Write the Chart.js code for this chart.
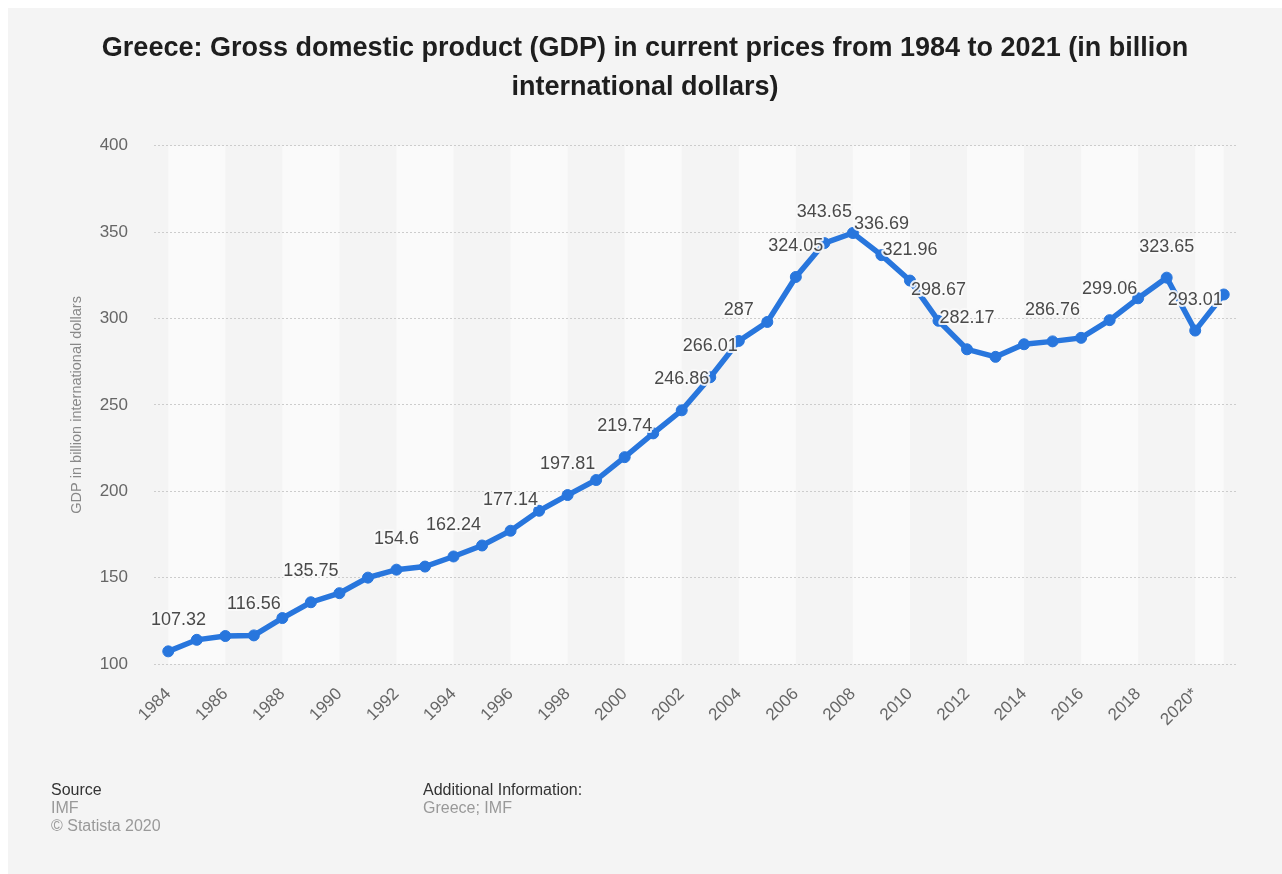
<!DOCTYPE html>
<html>
<head>
<meta charset="utf-8">
<title>Greece GDP 1984-2021</title>
<script src="https://cdn.jsdelivr.net/npm/chart.js"></script>
<style>
    html, body { margin: 0; padding: 0; background: #ffffff; }
    #panel {
        position: absolute; left: 8px; top: 8px; width: 1274px; height: 866px;
        background: #f4f4f4; font-family: "Liberation Sans", Arial, sans-serif;
    }
    #chartBox { position: absolute; left: 0; top: 0; width: 1274px; height: 866px; }
    .foot { position: absolute; font-size: 16px; line-height: 18px; color: #999999; white-space: nowrap; }
    .foot b { font-weight: normal; color: #333333; }
</style>
</head>
<body>
<div id="panel">
    <div id="chartBox"><canvas id="gdpChart"></canvas></div>
    <div class="foot" style="left:43px; top:773px;"><b>Source</b><br>IMF<br>© Statista 2020</div>
    <div class="foot" style="left:415px; top:773px;"><b>Additional Information:</b><br>Greece; IMF</div>
</div>
<script>
// GDP in billion international dollars (current prices), IMF
const years = ['1984', '1985', '1986', '1987', '1988', '1989', '1990', '1991', '1992', '1993',
    '1994', '1995', '1996', '1997', '1998', '1999', '2000', '2001', '2002', '2003',
    '2004', '2005', '2006', '2007', '2008', '2009', '2010', '2011', '2012', '2013',
    '2014', '2015', '2016', '2017', '2018', '2019', '2020*', '2021*'];
const gdp = [107.32, 114.0, 116.2, 116.56, 126.6, 135.75, 141.0, 150.0, 154.6, 156.4,
    162.24, 168.6, 177.14, 188.7, 197.81, 206.5, 219.74, 233.5, 246.86, 266.01,
    287, 298.0, 324.05, 343.65, 349.5, 336.69, 321.96, 298.67, 282.17, 277.8,
    285.1, 286.76, 288.8, 299.06, 311.7, 323.65, 293.01, 313.9];
// years whose value is printed above the point
const labeledYears = ['1984', '1987', '1989', '1992', '1994', '1996', '1998', '2000', '2002', '2003',
    '2004', '2006', '2007', '2009', '2010', '2011', '2012', '2015', '2017', '2019', '2020*'];
const yTicks = [100, 150, 200, 250, 300, 350, 400];

const FONT = '"Liberation Sans", Arial, sans-serif';
const BLUE = '#2876dd';

// alternating two-year column shading behind the grid
const bandPlugin = {
    id: 'bands',
    beforeDraw(chart) {
        const { ctx, chartArea, scales } = chart;
        ctx.save();
        ctx.fillStyle = '#fafafa';
        for (let i = 0; i < years.length - 1; i += 4) {
            const x0 = scales.x.getPixelForValue(i);
            const x1 = scales.x.getPixelForValue(Math.min(i + 2, years.length - 1));
            ctx.fillRect(x0, chartArea.top, x1 - x0, chartArea.bottom - chartArea.top);
        }
        ctx.restore();
    }
};

// centre the title on the whole canvas rather than between the uneven paddings
const centerTitle = {
    id: 'centerTitle',
    afterLayout(chart) {
        const tb = chart.titleBlock;
        if (!tb) return;
        const shift = (tb.left + tb.right) / 2 - chart.width / 2;
        tb.left -= shift;
        tb.right -= shift;
    }
};

// value labels above selected points
const valueLabels = {
    id: 'valueLabels',
    afterDatasetsDraw(chart) {
        const { ctx, chartArea } = chart;
        const meta = chart.getDatasetMeta(0);
        ctx.save();
        ctx.font = '18px ' + FONT;
        ctx.textAlign = 'center';
        ctx.textBaseline = 'middle';
        ctx.lineJoin = 'round';
        meta.data.forEach((pt, i) => {
            if (!labeledYears.includes(years[i])) return;
            const text = String(gdp[i]);
            const w = ctx.measureText(text).width;
            let x = pt.x;
            if (x - w / 2 < chartArea.left - 3) x = chartArea.left - 3 + w / 2;
            const y = pt.y - 31;
            ctx.strokeStyle = 'rgba(250,250,250,0.9)';
            ctx.lineWidth = 4;
            ctx.strokeText(text, x, y);
            ctx.fillStyle = '#4a4a4a';
            ctx.fillText(text, x, y);
        });
        ctx.restore();
    }
};

const ctx = document.getElementById('gdpChart').getContext('2d');
const gdpChart = new Chart(ctx, {
    type: 'line',
    data: {
        labels: years,
        datasets: [{
            data: gdp,
            borderColor: BLUE,
            backgroundColor: BLUE,
            borderWidth: 5.5,
            pointRadius: 5.5,
            pointBorderWidth: 1,
            pointBackgroundColor: BLUE,
            pointBorderColor: BLUE,
            tension: 0,
            fill: false
        }]
    },
    options: {
        responsive: true,
        maintainAspectRatio: false,
        animation: false,
        layout: { padding: { left: 58, right: 44, top: 0, bottom: 130 } },
        plugins: {
            legend: { display: false },
            tooltip: { enabled: false },
            title: {
                display: true,
                text: ['Greece: Gross domestic product (GDP) in current prices from 1984 to 2021 (in billion',
                       'international dollars)'],
                color: '#1e1e1e',
                font: { family: FONT, size: 27, weight: 'bold', lineHeight: 1.44 },
                padding: { top: 21, bottom: 39 }
            }
        },
        scales: {
            x: {
                offset: true,
                grid: { display: false, drawTicks: false },
                border: { display: false },
                ticks: {
                    autoSkip: false,
                    minRotation: 45,
                    maxRotation: 45,
                    padding: 20,
                    color: '#666666',
                    font: { family: FONT, size: 17 },
                    callback: function (value, index) {
                        return index % 2 === 0 ? this.getLabelForValue(value) : '';
                    }
                },
                afterFit: function (scale) { scale.height = 80; }
            },
            y: {
                min: yTicks[0],
                max: yTicks[yTicks.length - 1],
                afterBuildTicks: function (scale) {
                    scale.ticks = yTicks.map(v => ({ value: v }));
                },
                grid: { color: '#cccccc', lineWidth: 1, drawTicks: false },
                border: { display: false, dash: [2, 2] },
                ticks: { padding: 26, color: '#666666', font: { family: FONT, size: 17 } },
                title: {
                    display: true,
                    text: 'GDP in billion international dollars',
                    color: '#888888',
                    font: { family: FONT, size: 14.5 },
                    padding: { top: 2, bottom: 0 }
                },
                afterFit: function (scale) { scale.width = 88; }
            }
        }
    },
    plugins: [bandPlugin, centerTitle, valueLabels]
});
</script>
</body>
</html>
